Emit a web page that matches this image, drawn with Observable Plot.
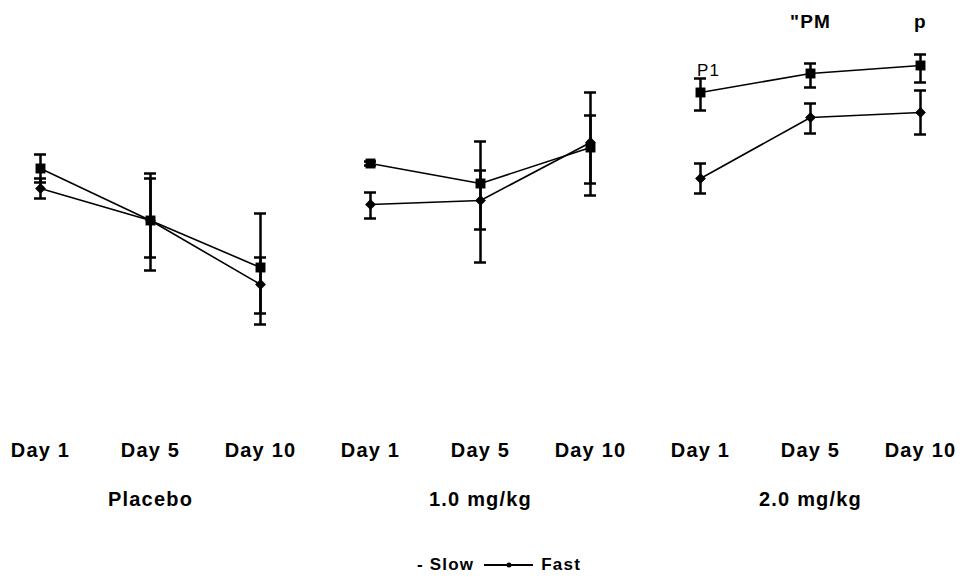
<!DOCTYPE html>
<html><head><meta charset="utf-8">
<script src="https://cdn.jsdelivr.net/npm/d3@7"></script>
<script src="https://cdn.jsdelivr.net/npm/@observablehq/plot@0.6"></script>
<style>
body{margin:0;background:#fff;font-family:"Liberation Sans",Arial,sans-serif;}
#chart{position:absolute;left:0;top:0;}
#chart svg text{letter-spacing:1.2px;}
#legend{position:absolute;left:417px;top:553px;height:24px;display:flex;align-items:center;font:bold 17px "Liberation Sans",Arial,sans-serif;letter-spacing:1.2px;color:#000;white-space:nowrap;}
#legend svg{margin:0 8px 0 10px;}
</style></head><body>
<div id="chart"></div>
<div id="legend"><span>- Slow</span><svg width="49" height="10"><line x1="0" y1="5" x2="49" y2="5" stroke="#000" stroke-width="2"/><circle cx="25" cy="5" r="2.5" fill="#000"/></svg><span>Fast</span></div>
<script>
const groups = ["Placebo", "1.0 mg/kg", "2.0 mg/kg"];
const days = ["Day 1", "Day 5", "Day 10"];
const seriesNames = ["Slow", "Fast"];
// values (arbitrary units), order: group x day
const slowMean = [162, 110, 63, 167, 147, 183, 238, 257, 265];
const slowLow  = [148, 60, 6, 165, 101, 147, 220, 243, 248];
const slowHigh = [176, 157, 117, 169, 189, 215, 252, 267, 276];
const fastMean = [142, 110, 46, 126, 130, 188, 152, 213, 218];
const fastLow  = [132, 73, 17, 112, 68, 135, 137, 197, 196];
const fastHigh = [152, 152, 73, 138, 160, 238, 167, 227, 240];
const annText = ["P1", "\"PM", "p"];
const annGroup = ["2.0 mg/kg", "2.0 mg/kg", "2.0 mg/kg"];
const annDay = ["Day 1", "Day 5", "Day 10"];
const annValue = [255, 303, 303];

const keys = groups.flatMap(g => days.map(d => g + "|" + d));
const rows = [];
const src = {Slow: [slowMean, slowLow, slowHigh], Fast: [fastMean, fastLow, fastHigh]};
for (const s of seriesNames) {
  keys.forEach((k, i) => {
    const [m, lo, hi] = src[s];
    rows.push({series: s, key: k, group: k.split("|")[0], mean: m[i], low: lo[i], high: hi[i]});
  });
}
const ann = annText.map((t, i) => ({text: t, key: annGroup[i] + "|" + annDay[i], value: annValue[i], bold: i > 0}));

const diamond = {draw(context, size) {
  const h = Math.sqrt(size / 2);
  context.moveTo(0, -h); context.lineTo(h, 0); context.lineTo(0, h); context.lineTo(-h, 0); context.closePath();
}};

const font = '"Liberation Sans", Arial, sans-serif';
const chart = Plot.plot({
  width: 975, height: 545,
  marginLeft: 32, marginRight: 46, marginTop: 0, marginBottom: 215,
  x: {type: "band", domain: keys, paddingInner: 0.89, paddingOuter: 0, axis: null},
  y: {domain: [0, 330], axis: null},
  style: {fontFamily: font, color: "black", background: "white", overflow: "visible"},
  marks: [
    Plot.ruleX(rows, {x: "key", y1: "low", y2: "high", stroke: "black", strokeWidth: 2.5}),
    Plot.tickY(rows, {x: "key", y: "low", stroke: "black", strokeWidth: 2.5}),
    Plot.tickY(rows, {x: "key", y: "high", stroke: "black", strokeWidth: 2.5}),
    Plot.line(rows, {x: "key", y: "mean", z: d => d.series + d.group, stroke: "black", strokeWidth: 1.6}),
    Plot.dot(rows.filter(d => d.series === "Slow"), {x: "key", y: "mean", symbol: "square", r: 5.6, fill: "black", stroke: "none"}),
    Plot.dot(rows.filter(d => d.series === "Fast"), {x: "key", y: "mean", symbol: diamond, r: 4.3, fill: "black", stroke: "none"}),
    Plot.text(keys, {x: d => d, text: d => d.split("|")[1], frameAnchor: "bottom", dy: 126.6, fontSize: 20, fontWeight: "bold", fill: "black"}),
    Plot.text(groups, {x: d => d + "|Day 5", text: d => d, frameAnchor: "bottom", dy: 175.6, fontSize: 20, fontWeight: "bold", fill: "black"}),
    Plot.text(ann.filter(d => !d.bold), {x: "key", y: "value", text: "text", lineAnchor: "bottom", dx: 8, fontSize: 17, fill: "black"}),
    Plot.text(ann.filter(d => d.bold), {x: "key", y: "value", text: "text", lineAnchor: "bottom", fontSize: 19, fontWeight: "bold", fill: "black"})
  ]
});
document.getElementById("chart").appendChild(chart);
</script>
</body></html>
